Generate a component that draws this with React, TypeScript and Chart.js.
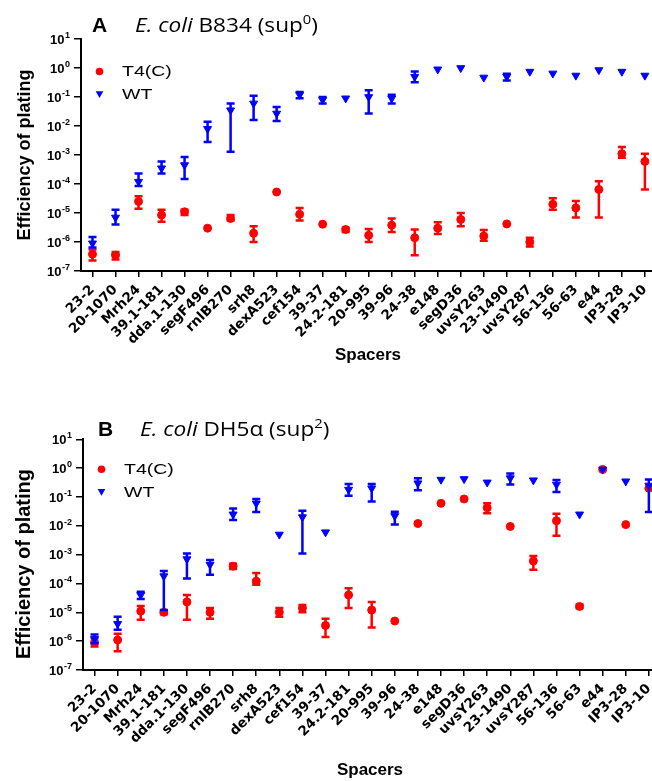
import React, { useEffect, useRef } from "react";
import { Chart, registerables } from "chart.js";

Chart.register(...registerables);

// ---------------- DATA ----------------
const spacers = [
  "23-2", "20-1070", "Mrh24", "39.1-181", "dda.1-130", "segF496", "rnlB270", "srh8",
  "dexA523", "cef154", "39-37", "24.2-181", "20-995", "39-96", "24-38", "e148",
  "segD36", "uvsY263", "23-1490", "uvsY287", "56-136", "56-63", "e44", "IP3-28", "IP3-10",
];

const yTickExponents = [-7, -6, -5, -4, -3, -2, -1, 0, 1];
const seriesNames = ["T4(C)", "WT"];
const xAxisTitle = "Spacers";
const yAxisTitle = "Efficiency of plating";

// Panel A: E. coli B834 (sup0)
const aT4Value = [3.8e-7, 3.5e-7, 2.5e-5, 8.5e-6, 1.1e-5, 3e-6, 6.5e-6, 2e-6, 5.3e-5, 9e-6, 4.1e-6, 2.7e-6, 1.7e-6, 3.8e-6, 1.4e-6, 3e-6, 6e-6, 1.6e-6, 4.2e-6, 1e-6, 2e-5, 1.5e-5, 6.5e-5, 1.1e-3, 6e-4];
const aT4Low = [2.3e-7, 2.5e-7, 1.4e-5, 5e-6, 8.5e-6, null, 5.5e-6, 1e-6, null, 5.5e-6, null, 2.2e-6, 1e-6, 2.2e-6, 3.5e-7, 1.9e-6, 3.5e-6, 1.1e-6, null, 7e-7, 1.3e-5, 7e-6, 7e-6, 8e-4, 6.5e-5];
const aT4High = [5.5e-7, 4.5e-7, 3.8e-5, 1.3e-5, 1.3e-5, null, 8.5e-6, 3.5e-6, null, 1.5e-5, null, 3.1e-6, 2.8e-6, 6.4e-6, 2.7e-6, 4.8e-6, 1e-5, 2.6e-6, null, 1.4e-6, 3.2e-5, 2.6e-5, 1.25e-4, 1.9e-3, 1.1e-3];
const aWtValue = [9e-7, 7e-6, 1.2e-4, 3.5e-4, 4.5e-4, 8e-3, 3.5e-2, 6e-2, 2.7e-2, 0.12, 0.08, 0.09, 0.1, 0.09, 0.5, 0.9, 1.0, 0.47, 0.5, 0.75, 0.65, 0.55, 0.85, 0.75, 0.55];
const aWtLow = [6.5e-7, 4e-6, 8.5e-5, 2.3e-4, 1.5e-4, 2.8e-3, 1.3e-3, 1.6e-2, 1.5e-2, 0.09, 0.06, null, 0.027, 0.06, 0.32, null, null, null, 0.37, null, null, null, null, null, null];
const aWtHigh = [1.5e-6, 1.3e-5, 2.3e-4, 6e-4, 8.5e-4, 1.4e-2, 6e-2, 1.1e-1, 4.5e-2, 0.15, 0.1, null, 0.17, 0.12, 0.75, null, null, null, 0.63, null, null, null, null, null, null];

// Panel B: E. coli DH5α (sup2)
const bT4Value = [9e-7, 1.1e-6, 1.1e-5, 1e-5, 2.3e-5, 1e-5, 4e-4, 1.2e-4, 1e-5, 1.4e-5, 3.5e-6, 4e-5, 1.2e-5, 5e-6, 1.2e-2, 6e-2, 8.5e-2, 4.2e-2, 9.5e-3, 6e-4, 1.5e-2, 1.6e-5, 0.9, 1.1e-2, 0.2];
const bT4Low = [6.5e-7, 4.5e-7, 5.5e-6, 8.5e-6, 5.5e-6, 6e-6, 3.2e-4, 9e-5, 7e-6, 1e-5, 1.4e-6, 1.4e-5, 3e-6, null, null, null, null, 2.7e-2, null, 3e-4, 4.5e-3, 1.4e-5, null, null, null];
const bT4High = [1.25e-6, 1.8e-6, 1.65e-5, 1.15e-5, 4e-5, 1.4e-5, 4.8e-4, 2.3e-4, 1.4e-5, 1.8e-5, 6e-6, 6.8e-5, 2.3e-5, null, null, null, null, 6e-2, null, 9e-4, 2.6e-2, 1.85e-5, null, null, null];
const bWtValue = [1.2e-6, 4e-6, 4e-5, 1.8e-4, 7e-4, 4.5e-4, 2.5e-2, 6e-2, 5e-3, 2e-2, 6e-3, 0.18, 0.2, 2.2e-2, 0.3, 0.4, 0.42, 0.32, 0.45, 0.38, 0.27, 2.5e-2, 0.9, 0.35, 0.25];
const bWtLow = [8.5e-7, 2.5e-6, 2.9e-5, 1.2e-5, 1.5e-4, 2e-4, 1.6e-2, 3e-2, null, 1.1e-3, null, 0.11, 0.07, 1.1e-2, 0.17, null, null, null, 0.27, null, 0.15, null, null, null, 0.03];
const bWtHigh = [1.7e-6, 7e-6, 5.2e-5, 2.7e-4, 1.1e-3, 6.5e-4, 4e-2, 8.5e-2, null, 3.3e-2, null, 0.28, 0.28, 3.1e-2, 0.45, null, null, null, 0.65, null, 0.39, null, null, null, 0.4];

// ---------------- STYLE / LAYOUT ----------------
const RED = "#ff0000";
const BLUE = "#0000ff";
const SANS = '"Liberation Sans", Arial, Helvetica, sans-serif';
const WIDE = '"DejaVu Sans", Verdana, sans-serif';
const TITLE_FONT = '"Open Sans", "Liberation Sans", sans-serif';

type Series = { v: number[]; lo: (number | null)[]; hi: (number | null)[] };
type PanelCfg = {
  letter: string;
  strain: string;
  sup: string;
  t4: Series;
  wt: Series;
  canvasW: number;
  canvasH: number;
  plotLeft: number;
  plotTop: number;
  plotBottom: number;
  plotRight: number;
  letterX: number;
  titleX: number;
  titleBaseline: number;
  legendDy: number;
  yTitleSize: number;
  yTitleCenterX: number;
  yTitleCenterY: number;
  xTitleCenterX: number;
  xTitleCenterY: number;
};

const panelA: PanelCfg = {
  letter: "A",
  strain: "B834",
  sup: "0",
  t4: { v: aT4Value, lo: aT4Low, hi: aT4High },
  wt: { v: aWtValue, lo: aWtLow, hi: aWtHigh },
  canvasW: 662,
  canvasH: 390,
  plotLeft: 81,
  plotTop: 39,
  plotBottom: 271,
  plotRight: 81 + 25 * 23.1,
  letterX: 92,
  titleX: 135,
  titleBaseline: 32,
  legendDy: 32.5,
  yTitleSize: 18,
  yTitleCenterX: 25,
  yTitleCenterY: 155,
  xTitleCenterX: 368,
  xTitleCenterY: 355,
};

const panelB: PanelCfg = {
  letter: "B",
  strain: "DH5α",
  sup: "2",
  t4: { v: bT4Value, lo: bT4Low, hi: bT4High },
  wt: { v: bWtValue, lo: bWtLow, hi: bWtHigh },
  canvasW: 666,
  canvasH: 391,
  plotLeft: 83,
  plotTop: 49.3,
  plotBottom: 280,
  plotRight: 83 + 25 * 23.1,
  letterX: 98,
  titleX: 140,
  titleBaseline: 45.7,
  legendDy: 30,
  yTitleSize: 20,
  yTitleCenterX: 24,
  yTitleCenterY: 174,
  xTitleCenterX: 370,
  xTitleCenterY: 380,
};

// ---------------- PLUGINS ----------------
const errorBarPlugin = {
  id: "errorBars",
  beforeDatasetDraw(chart: any, args: any) {
    const ds = chart.data.datasets[args.index];
    const lows = ds.errLow as (number | null)[];
    const highs = ds.errHigh as (number | null)[];
    if (!lows || !highs) return;
    const y = chart.scales.y;
    const ctx = chart.ctx;
    ctx.save();
    ctx.strokeStyle = ds.borderColor;
    ctx.lineWidth = 2.5;
    ctx.lineCap = "butt";
    args.meta.data.forEach((pt: any, i: number) => {
      const lo = lows[i];
      const hi = highs[i];
      if (lo == null || hi == null) return;
      const x = pt.x;
      const y1 = y.getPixelForValue(hi);
      const y2 = y.getPixelForValue(lo);
      ctx.beginPath();
      ctx.moveTo(x, y1);
      ctx.lineTo(x, y2);
      ctx.moveTo(x - 4, y1);
      ctx.lineTo(x + 4, y1);
      ctx.moveTo(x - 4, y2);
      ctx.lineTo(x + 4, y2);
      ctx.stroke();
    });
    ctx.restore();
  },
};

function drawTriangleDown(ctx: CanvasRenderingContext2D, x: number, y: number, r: number) {
  ctx.beginPath();
  for (let k = 0; k < 3; k++) {
    const a = Math.PI + (k * 2 * Math.PI) / 3;
    const px = x + Math.sin(a) * r;
    const py = y - Math.cos(a) * r;
    if (k === 0) ctx.moveTo(px, py);
    else ctx.lineTo(px, py);
  }
  ctx.closePath();
}

// draws text horizontally stretched by sx, starting at x (left aligned); returns advance
function stretchedText(ctx: CanvasRenderingContext2D, text: string, x: number, y: number, sx: number) {
  ctx.save();
  ctx.translate(x, y);
  ctx.scale(sx, 1);
  ctx.textAlign = "left";
  ctx.fillText(text, 0, 0);
  const w = ctx.measureText(text).width * sx;
  ctx.restore();
  return w;
}

const decorPlugin = {
  id: "decor",
  afterDraw(chart: any) {
    const cfg: PanelCfg = chart.options.plugins.decor.cfg;
    const ctx: CanvasRenderingContext2D = chart.ctx;
    const y = chart.scales.y;
    ctx.save();
    ctx.fillStyle = "#000";

    // y tick labels 10^n
    const right = chart.chartArea.left - 11;
    yTickExponents.forEach((e) => {
      const py = y.getPixelForValue(Math.pow(10, e));
      const supTxt = e < 0 ? "-" + Math.abs(e) : String(e);
      ctx.font = `bold 9px ${SANS}`;
      const supW = ctx.measureText(supTxt).width;
      ctx.textAlign = "left";
      ctx.textBaseline = "middle";
      ctx.fillText(supTxt, right - supW, py - 3.5);
      ctx.font = `bold 13px ${SANS}`;
      ctx.textAlign = "right";
      ctx.fillText("10", right - supW - 0.5, py + 1);
    });

    // Axis titles
    ctx.textAlign = "center";
    ctx.textBaseline = "middle";
    ctx.font = `bold 17px ${SANS}`;
    ctx.fillText(xAxisTitle, cfg.xTitleCenterX, cfg.xTitleCenterY);
    ctx.save();
    ctx.translate(cfg.yTitleCenterX, cfg.yTitleCenterY);
    ctx.rotate(-Math.PI / 2);
    ctx.font = `bold ${cfg.yTitleSize}px ${SANS}`;
    ctx.fillText(yAxisTitle, 0, 0);
    ctx.restore();

    // Panel title
    ctx.textAlign = "left";
    ctx.textBaseline = "alphabetic";
    ctx.font = `bold 21px ${SANS}`;
    ctx.fillText(cfg.letter, cfg.letterX, cfg.titleBaseline);
    const sx = 1.13;
    let tx = cfg.titleX;
    ctx.font = `italic 20px ${TITLE_FONT}`;
    tx += stretchedText(ctx, "E. coli", tx, cfg.titleBaseline, sx);
    ctx.font = `20px ${TITLE_FONT}`;
    tx += stretchedText(ctx, " " + cfg.strain + " (sup", tx, cfg.titleBaseline, sx);
    ctx.font = `13px ${TITLE_FONT}`;
    tx += stretchedText(ctx, cfg.sup, tx, cfg.titleBaseline - 8, sx);
    ctx.font = `20px ${TITLE_FONT}`;
    stretchedText(ctx, ")", tx, cfg.titleBaseline, sx);

    // Legend
    const lx = chart.chartArea.left + 18.5;
    const ly1 = chart.chartArea.top + cfg.legendDy;
    const ly2 = ly1 + 23;
    ctx.fillStyle = RED;
    ctx.beginPath();
    ctx.arc(lx, ly1, 3.8, 0, Math.PI * 2);
    ctx.fill();
    ctx.fillStyle = BLUE;
    drawTriangleDown(ctx, lx, ly2 - 1, 4.4);
    ctx.fill();
    ctx.fillStyle = "#000";
    ctx.font = `15px ${SANS}`;
    ctx.textBaseline = "middle";
    stretchedText(ctx, seriesNames[0], lx + 22.5, ly1 + 0.5, 1.3);
    stretchedText(ctx, seriesNames[1], lx + 22.5, ly2 + 0.5, 1.3);
    ctx.restore();
  },
};

// ---------------- COMPONENTS ----------------
function Panel({ cfg }: { cfg: PanelCfg }) {
  const ref = useRef<HTMLCanvasElement>(null);
  useEffect(() => {
    const canvas = ref.current!;
    const chart = new Chart(canvas, {
      type: "line",
      data: {
        labels: spacers,
        datasets: [
          {
            label: seriesNames[0],
            data: cfg.t4.v,
            errLow: cfg.t4.lo,
            errHigh: cfg.t4.hi,
            showLine: false,
            pointStyle: "circle",
            pointRadius: 4,
            pointBorderWidth: 1,
            backgroundColor: RED,
            borderColor: RED,
            order: 1,
          } as any,
          {
            label: seriesNames[1],
            data: cfg.wt.v,
            errLow: cfg.wt.lo,
            errHigh: cfg.wt.hi,
            showLine: false,
            pointStyle: "triangle",
            pointRotation: 180,
            pointRadius: 4.6,
            pointBorderWidth: 1,
            backgroundColor: BLUE,
            borderColor: BLUE,
            order: 0,
          } as any,
        ],
      },
      options: {
        animation: false,
        responsive: false,
        maintainAspectRatio: false,
        devicePixelRatio: 1,
        layout: {
          padding: { top: cfg.plotTop, left: 0, right: cfg.canvasW - cfg.plotRight, bottom: 0 },
        },
        plugins: {
          legend: { display: false },
          tooltip: { enabled: false },
          title: { display: false },
          decor: { cfg },
        } as any,
        scales: {
          x: {
            type: "category",
            offset: true,
            grid: {
              display: true,
              drawOnChartArea: false,
              drawTicks: true,
              tickLength: 6,
              color: "#000",
              lineWidth: 1.5,
            },
            border: { display: true, color: "#000", width: 2 },
            ticks: {
              autoSkip: false,
              minRotation: 45,
              maxRotation: 45,
              padding: 5,
              color: "#000",
              font: { family: WIDE, size: 13.5, weight: "bold" },
            },
            title: { display: false },
            afterFit: (s: any) => {
              s.height = cfg.canvasH - cfg.plotBottom;
              s.paddingLeft = 0;
              s.paddingRight = 0;
            },
          },
          y: {
            type: "logarithmic",
            min: 1e-7,
            max: 10,
            afterBuildTicks: (s: any) => {
              s.ticks = yTickExponents.map((e) => ({ value: Math.pow(10, e) }));
            },
            grid: {
              display: true,
              drawOnChartArea: false,
              drawTicks: true,
              tickLength: 7,
              color: "#000",
              lineWidth: 1.5,
            },
            border: { display: true, color: "#000", width: 2 },
            ticks: { display: false },
            title: { display: false },
            afterFit: (s: any) => {
              s.width = cfg.plotLeft;
              s.paddingTop = 0;
              s.paddingBottom = 0;
            },
          },
        },
      } as any,
      plugins: [errorBarPlugin, decorPlugin],
    });
    return () => chart.destroy();
  }, [cfg]);
  return (
    <canvas
      ref={ref}
      width={cfg.canvasW}
      height={cfg.canvasH}
      style={{ display: "block", width: cfg.canvasW + "px", height: cfg.canvasH + "px" }}
    />
  );
}

export default function App() {
  return (
    <div
      style={{
        position: "absolute",
        left: 0,
        top: 0,
        width: 652,
        height: 781,
        overflow: "hidden",
        background: "#fff",
      }}
    >
      <div style={{ position: "absolute", left: 0, top: 0 }}>
        <Panel cfg={panelA} />
      </div>
      <div style={{ position: "absolute", left: 0, top: 390 }}>
        <Panel cfg={panelB} />
      </div>
    </div>
  );
}
